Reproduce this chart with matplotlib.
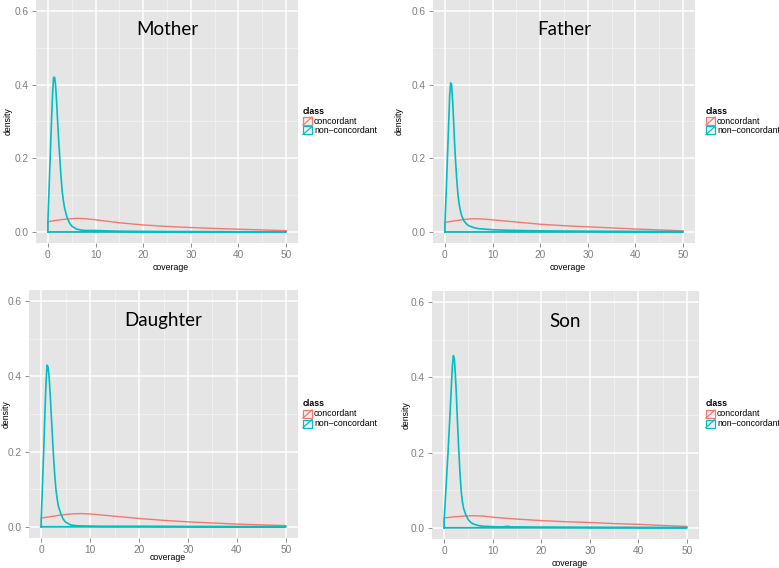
import matplotlib
matplotlib.use('Agg')
import matplotlib.pyplot as plt
from matplotlib.patches import Rectangle
from matplotlib.lines import Line2D

W, H = 779, 568

# --- dane ---
panel_names = ['Mother', 'Father', 'Daughter', 'Son']
class_labels = ['concordant', 'non\u2013concordant']

conc_x = [0, 2, 4, 6, 8, 10, 15, 20, 25, 30, 35, 40, 45, 50]
conc_mother   = [0.028, 0.032, 0.035, 0.037, 0.036, 0.033, 0.025, 0.019, 0.015, 0.012, 0.0095, 0.0075, 0.0055, 0.0035]
conc_father   = [0.026, 0.030, 0.034, 0.036, 0.035, 0.033, 0.027, 0.021, 0.017, 0.014, 0.011, 0.008, 0.0055, 0.003]
conc_daughter = [0.023, 0.027, 0.031, 0.034, 0.035, 0.034, 0.028, 0.022, 0.017, 0.013, 0.010, 0.007, 0.005, 0.003]
conc_son      = [0.026, 0.029, 0.031, 0.032, 0.031, 0.028, 0.023, 0.019, 0.016, 0.014, 0.011, 0.009, 0.006, 0.0035]

nc_x = [0, 0.25, 0.5, 0.75, 1.0, 1.2, 1.4, 1.6, 1.8, 2.0, 2.25, 2.5, 2.75, 3.0, 3.25,
        3.5, 4.0, 4.5, 5, 6, 7, 8, 10, 12, 15, 20, 25, 30, 40, 50]
nc_mother = [0.03, 0.12, 0.21, 0.30, 0.38, 0.42, 0.42, 0.40, 0.36, 0.31, 0.25, 0.20, 0.15, 0.11, 0.085,
             0.065, 0.04, 0.025, 0.016, 0.008, 0.005, 0.004, 0.004, 0.003, 0.002, 0.0015, 0.001, 0.001, 0.0005, 0.0003]
nc_father = [0.02, 0.10, 0.19, 0.28, 0.37, 0.405, 0.40, 0.36, 0.31, 0.25, 0.19, 0.14, 0.10, 0.075, 0.058,
             0.045, 0.03, 0.022, 0.017, 0.012, 0.009, 0.008, 0.006, 0.005, 0.004, 0.003, 0.0025, 0.002, 0.0015, 0.001]
nc_daughter = [0.02, 0.11, 0.20, 0.30, 0.39, 0.43, 0.425, 0.40, 0.36, 0.31, 0.25, 0.19, 0.14, 0.10, 0.075,
               0.055, 0.035, 0.02, 0.012, 0.005, 0.003, 0.002, 0.0015, 0.001, 0.001, 0.001, 0.0008, 0.0005, 0.0003, 0.0002]

nc_son_x = [0, 0.4, 0.8, 1.2, 1.5, 1.7, 1.9, 2.1, 2.3, 2.5, 2.75, 3.0, 3.25, 3.5, 3.75, 4.0, 4.5, 5,
            5.5, 6, 7, 8, 10, 12, 13, 14, 15, 20, 30, 40, 50]
nc_son = [0.02, 0.11, 0.20, 0.30, 0.38, 0.43, 0.458, 0.45, 0.41, 0.36, 0.28, 0.21, 0.15, 0.10, 0.07, 0.052,
          0.033, 0.021, 0.014, 0.010, 0.006, 0.004, 0.003, 0.002, 0.004, 0.002, 0.002, 0.0015, 0.001, 0.0007, 0.0004]

x_ticks = [0, 10, 20, 30, 40, 50]
y_ticks = [0.0, 0.2, 0.4, 0.6]

RED = '#F8766D'
CYAN = '#00BFC4'

# uklad paneli w pikselach: (lewo, gora, prawo, dol), pozycje opisow
panels = [
    dict(box=(36, 0, 298, 243), cov_y=268, dens_x=8, leg=(303, 111),
         cx=conc_x, cy=conc_mother, nx=nc_x, ny=nc_mother),
    dict(box=(433, 0, 695, 243), cov_y=267, dens_x=399, leg=(706, 111),
         cx=conc_x, cy=conc_father, nx=nc_x, ny=nc_father),
    dict(box=(29, 290, 298, 538), cov_y=557, dens_x=6, leg=(303, 404),
         cx=conc_x, cy=conc_daughter, nx=nc_x, ny=nc_daughter),
    dict(box=(432, 291, 699, 539), cov_y=563, dens_x=406, leg=(706, 404),
         cx=conc_x, cy=conc_son, nx=nc_son_x, ny=nc_son),
]

plt.rcParams['font.family'] = ['Liberation Sans', 'DejaVu Sans']

fig = plt.figure(figsize=(W / 100, H / 100), dpi=100)


def fx(px):
    return px / W


def fy(py):
    return 1 - py / H


def outline(xs, ys):
    # kontur jak w geom_density: od zera, krzywa, powrot po osi
    return [xs[0]] + list(xs) + [xs[-1], xs[0]], [0] + list(ys) + [0, 0]


for name, p in zip(panel_names, panels):
    l, t, r, b = p['box']
    ax = fig.add_axes([fx(l), fy(b), fx(r) - fx(l), (b - t) / H])
    ax.set_facecolor('#E5E5E5')
    ax.set_xlim(-2.5, 52.5)
    ax.set_ylim(-0.03, 0.63)
    for s in ax.spines.values():
        s.set_visible(False)
    for v in [5, 15, 25, 35, 45]:
        ax.axvline(v, color='#F2F2F2', lw=0.6, zorder=0)
    for v in [0.1, 0.3, 0.5]:
        ax.axhline(v, color='#F2F2F2', lw=0.6, zorder=0)
    for v in x_ticks:
        ax.axvline(v, color='white', lw=1.1, zorder=0)
    for v in y_ticks:
        ax.axhline(v, color='white', lw=1.1, zorder=0)

    ox, oy = outline(p['cx'], p['cy'])
    ax.plot(ox, oy, color=RED, lw=1.0, zorder=2)
    ox, oy = outline(p['nx'], p['ny'])
    ax.plot(ox, oy, color=CYAN, lw=1.2, zorder=3)

    ax.set_xticks(x_ticks)
    ax.set_yticks(y_ticks)
    ax.set_xticklabels([str(v) for v in x_ticks])
    ax.set_yticklabels([f'{v:.1f}' for v in y_ticks])
    ax.tick_params(colors='#7F7F7F', labelsize=7.3, length=3, width=0.6, pad=2)

    ax.text(25, 0.55, name, ha='center', va='center', fontsize=13.5,
            family=['Lato', 'DejaVu Sans'])

    fig.text(fx((l + r) / 2 + 4), fy(p['cov_y']), 'coverage', ha='center', va='center', fontsize=6.3)
    fig.text(fx(p['dens_x']), fy((t + b) / 2), 'density', ha='center', va='center',
             rotation=90, fontsize=6.3)

    # legenda
    lx, ly = p['leg']
    fig.text(fx(lx), fy(ly), 'class', ha='left', va='center', fontsize=6.3, weight='bold')
    for i, (lab, col) in enumerate(zip(class_labels, [RED, CYAN])):
        ky = ly + 10 + i * 9.5
        fig.add_artist(Rectangle((fx(lx), fy(ky + 4)), 9 / W, 8 / H, transform=fig.transFigure,
                                 facecolor='#F2F2F2', edgecolor=col, lw=0.9))
        fig.add_artist(Line2D([fx(lx), fx(lx + 9)], [fy(ky + 4), fy(ky - 4)],
                              transform=fig.transFigure, color=col, lw=0.9))
        fig.text(fx(lx + 11), fy(ky), lab, ha='left', va='center', fontsize=6.3)

fig.savefig('out.png', dpi=100)
